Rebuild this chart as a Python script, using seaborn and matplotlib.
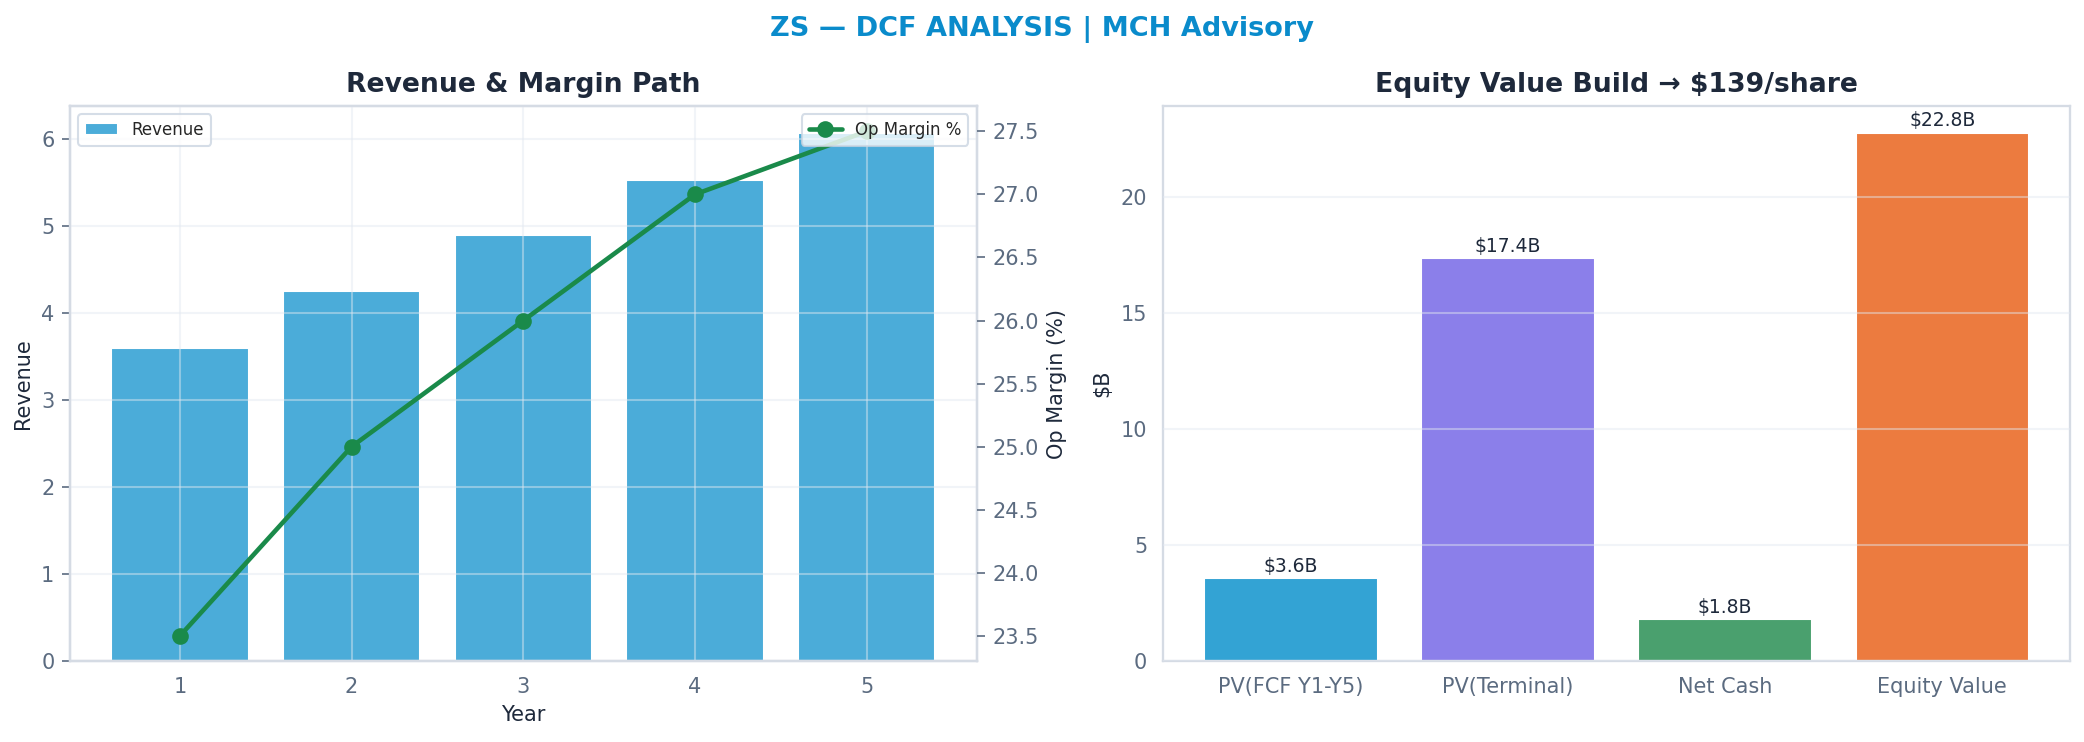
import numpy as np
import pandas as pd
import matplotlib
matplotlib.use("Agg")
import matplotlib.pyplot as plt
import seaborn as sns

# ---- data ----
years = [1, 2, 3, 4, 5]
revenue = [3.60, 4.25, 4.89, 5.52, 6.07]
op_margin = [23.5, 25.0, 26.0, 27.0, 27.5]

build_labels = ["PV(FCF Y1-Y5)", "PV(Terminal)", "Net Cash", "Equity Value"]
build_values = [3.6, 17.4, 1.8, 22.8]
build_colors = ["#33A3D4", "#8B7FEA", "#4AA06E", "#EC7B3F"]

suptitle = "ZS — DCF ANALYSIS | MCH Advisory"
title_left = "Revenue & Margin Path"
title_right = "Equity Value Build → $139/share"

# ---- style ----
sns.set_style("white")
plt.rcParams["font.family"] = ["DejaVu Sans"]
plt.rcParams["axes.axisbelow"] = False

DARK = "#1e293b"
TICK = "#5b6b80"
SPINE = "#d5dbe4"
GRID = "#e2e8f0"

fig = plt.figure(figsize=(2084 / 150, 742 / 150), dpi=150)
ax1 = fig.add_axes([0.0336, 0.109, 0.435, 0.748])
ax3 = fig.add_axes([0.558, 0.109, 0.4355, 0.748])

fig.suptitle(suptitle, color="#0A8BCB", fontsize=13, fontweight="bold", y=0.978)

# ---- left: revenue bars + margin line ----
df_rev = pd.DataFrame({"Year": years, "Revenue": revenue})
sns.barplot(data=df_rev, x="Year", y="Revenue", native_scale=True, color="#4BACD9",
            saturation=1, width=0.8, ax=ax1, label="Revenue")
ax1.autoscale(enable=True, axis="x")
ax1.margins(x=0.05)
ax1.autoscale_view()
ax1.set_title(title_left, fontsize=12.8, fontweight="bold", color=DARK, pad=7)
ax1.set_xlabel("Year", fontsize=10, color=DARK)
ax1.set_ylabel("Revenue", fontsize=10, color=DARK)
ax1.grid(True, color=GRID, alpha=0.45, linewidth=1)
ax1.legend(loc="upper left", fontsize=8, frameon=True, edgecolor="#cbd5e1")

ax2 = ax1.twinx()
df_m = pd.DataFrame({"Year": years, "Op Margin %": op_margin})
sns.lineplot(data=df_m, x="Year", y="Op Margin %", color="#1A8A4A", linewidth=2.2,
             marker="o", markersize=8, markeredgewidth=0, ax=ax2, label="Op Margin %")
ax2.set_ylabel("Op Margin (%)", fontsize=10, color=DARK)
ax2.legend(loc="upper right", fontsize=8, frameon=True, edgecolor="#cbd5e1")
ax2.grid(False)

# ---- right: equity build ----
df_b = pd.DataFrame({"Component": build_labels, "Value": build_values})
sns.barplot(data=df_b, x="Component", y="Value", hue="Component", palette=build_colors,
            saturation=1, width=0.8, legend=False, ax=ax3)
ax3.autoscale(enable=True, axis="x")
ax3.margins(x=0.05)
ax3.autoscale_view()
for cont, v in zip(ax3.containers, build_values):
    ax3.bar_label(cont, labels=[f"${v:.1f}B"], fontsize=9, color=DARK, padding=1)
ax3.set_title(title_right, fontsize=12.8, fontweight="bold", color=DARK, pad=7)
ax3.set_xlabel("")
ax3.set_ylabel("$B", fontsize=10, color=DARK)
ax3.grid(True, axis="y", color=GRID, alpha=0.45, linewidth=1)
ax3.grid(False, axis="x")

for ax in (ax1, ax2, ax3):
    for s in ax.spines.values():
        s.set_color(SPINE)
        s.set_linewidth(1.1)
    ax.tick_params(colors=TICK, labelsize=10, length=4, color=TICK, width=0.8)

fig.savefig("out.png", dpi=150)
